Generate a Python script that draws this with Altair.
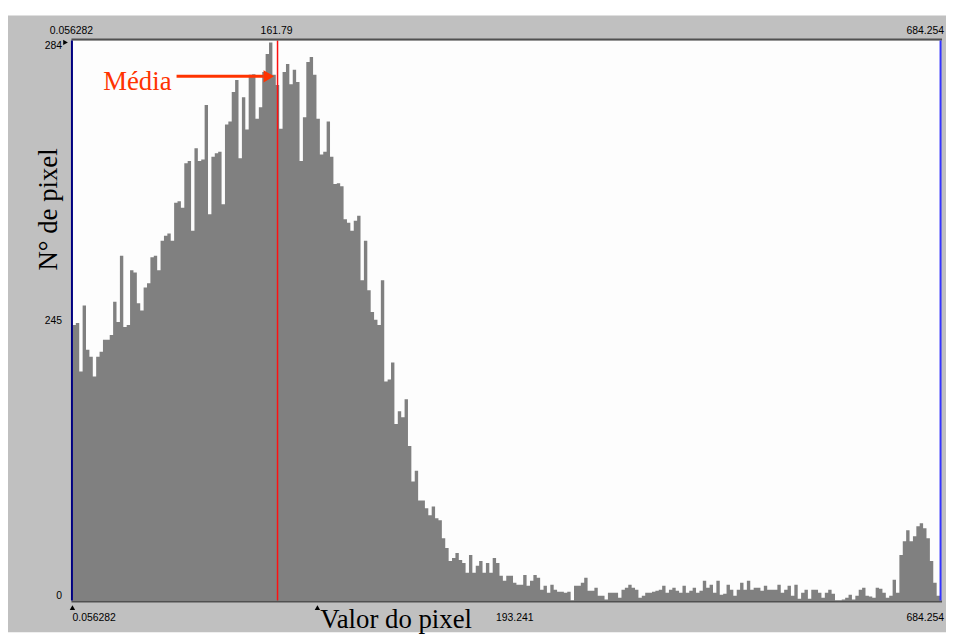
import altair as alt
import pandas as pd

# ---- data ----
x_min = 0.056282
x_max = 684.254
mean_value = 161.79
cursor_value = 193.241
y_ticks = [0, 245, 284]
top_labels = ["0.056282", "161.79", "684.254"]
bottom_labels = ["0.056282", "193.241", "684.254"]

counts = [
    241.1, 242.8, 200.4, 247.1, 219.4, 213.4, 196.0, 213.4, 217.7, 228.1,
    228.1, 232.4, 247.6, 243.7, 254.0, 239.4, 241.1, 252.0, 251.7, 247.4,
    246.4, 249.6, 250.2, 253.8, 254.0, 252.0, 256.1, 256.8, 257.1, 256.1,
    261.4, 261.6, 260.7, 266.9, 267.2, 257.5, 269.0, 267.2, 267.4, 275.0,
    259.8, 267.8, 268.3, 268.5, 261.2, 272.3, 272.7, 276.8, 278.5, 267.6,
    276.1, 271.6, 279.2, 279.3, 273.1, 274.7, 279.6, 282.1, 283.7, 279.2,
    277.8, 271.7, 279.6, 280.7, 277.9, 279.9, 278.2, 267.2, 273.3, 281.0,
    281.7, 279.2, 273.1, 268.1, 268.5, 272.7, 267.8, 264.0, 264.1, 263.7,
    259.1, 258.6, 257.5, 258.9, 259.6, 250.6, 256.1, 249.2, 246.2, 245.1,
    241.1, 250.6, 191.7, 193.4, 208.2, 154.4, 165.7, 160.4, 176.1, 135.3,
    104.1, 113.6, 87.6, 87.6, 80.7, 74.6, 82.4, 72.0, 70.3, 54.6,
    46.0, 34.7, 37.3, 41.6, 35.6, 33.0, 24.3, 39.9, 24.3, 30.4,
    34.7, 24.3, 33.0, 24.3, 37.3, 33.0, 21.7, 17.3, 21.7, 21.7,
    15.6, 13.9, 13.9, 22.5, 13.0, 17.3, 22.5, 19.9, 9.5, 13.0,
    6.9, 13.9, 9.5, 7.8, 7.8, 6.9, 7.8, 0.0, 13.0, 13.0,
    15.6, 19.9, 8.7, 8.7, 11.3, 4.3, 4.3, 0.9, 6.9, 6.9,
    6.9, 2.6, 9.5, 11.3, 13.9, 11.3, 9.5, 2.6, 4.3, 6.9,
    6.9, 7.8, 8.7, 9.5, 13.0, 6.9, 9.5, 11.3, 8.7, 6.9,
    13.0, 6.9, 8.7, 11.3, 6.9, 8.7, 17.3, 11.3, 13.9, 6.9,
    17.3, 5.2, 6.1, 13.9, 9.5, 4.3, 9.5, 15.6, 9.5, 17.3,
    9.5, 11.3, 11.3, 8.7, 13.0, 9.5, 9.5, 9.5, 13.9, 6.9,
    9.5, 13.0, 4.3, 13.9, 1.7, 6.9, 9.5, 1.7, 9.5, 9.5,
    6.9, 2.6, 6.9, 9.5, 6.1, 0.0, 0.0, 0.9, 2.6, 5.2,
    0.9, 4.3, 9.5, 11.3, 4.3, 3.5, 2.6, 11.3, 10.4, 6.9,
    2.6, 4.3, 18.2, 6.9, 39.9, 52.0, 61.6, 52.0, 56.4, 65.0,
    67.6, 63.3, 54.6, 34.7, 15.6, 4.3,
]

# annotation ("Média" with arrow), in data units
media_text = "Média"
media_x = 24.3
media_y = 277.1
arrow_x_start = 82.16
arrow_x_end = 150.9
arrow_head_x = 154.9
arrow_y = 279.0

# ---- layout ----
W, H = 875, 565
n = len(counts)
step = (x_max - x_min) / n
hist = pd.DataFrame({
    "x": [x_min + i * step for i in range(n)] + [x_max],
    "count": counts + [counts[-1]],
})

xs = alt.Scale(domain=[x_min, x_max], nice=False, zero=False)
ys = alt.Scale(domain=y_ticks, range=[H, H / 2, 0], nice=False, zero=False)

one = pd.DataFrame({"k": [0]})
SANS = "Liberation Sans"
SERIF = "Liberation Serif"
RED = "#ff3300"
LBL = 10.5

panel = alt.Chart(one).mark_rect(color="#c0c0c0").encode(
    x=alt.value(-65), x2=alt.value(W + 6), y=alt.value(-25), y2=alt.value(H + 32)
)
plotbg = alt.Chart(one).mark_rect(color="#fdfdfd").encode(
    x=alt.value(0), x2=alt.value(W), y=alt.value(0), y2=alt.value(H)
)

area = alt.Chart(hist).mark_area(interpolate="step-after", color="#808080", opacity=1).encode(
    x=alt.X("x:Q", scale=xs, axis=alt.Axis(
        title="Valor do pixel", labels=False, ticks=False, domain=False, grid=False, zindex=2,
        titleFont=SERIF, titleFontSize=27, titleFontWeight="normal", titleColor="#000",
        titleX=326, titleY=27, titleAlign="center", titleBaseline="alphabetic")),
    y=alt.Y("count:Q", scale=ys, axis=alt.Axis(
        values=y_ticks, title="N° de pixel", grid=False, domain=False, ticks=False, zindex=2,
        tickSize=0, labelPadding=11, labelFlush=True, labelFont=SANS, labelFontSize=LBL,
        labelColor="#000", titleFont=SERIF, titleFontSize=27, titleFontWeight="normal",
        titleColor="#000", titleX=-16, titleY=170, titleAngle=270, titleAlign="center",
        titleBaseline="alphabetic")),
)

mean_rule = alt.Chart(pd.DataFrame({"x": [mean_value]})).mark_rule(
    color="#ff1010", strokeWidth=1.5
).encode(x=alt.X("x:Q", scale=xs, axis=None))

top_border = alt.Chart(one).mark_rule(color="#505050", strokeWidth=2).encode(
    x=alt.value(-1), x2=alt.value(W + 2), y=alt.value(-1)
)
bottom_border = alt.Chart(one).mark_rule(color="#505050", strokeWidth=2).encode(
    x=alt.value(-1), x2=alt.value(W + 2), y=alt.value(H + 1)
)
left_border = alt.Chart(one).mark_rule(color="#000080", strokeWidth=2).encode(
    x=alt.value(-0.5), y=alt.value(0), y2=alt.value(H)
)
right_border = alt.Chart(one).mark_rule(color="#3333ff", strokeWidth=2).encode(
    x=alt.value(W + 0.5), y=alt.value(0), y2=alt.value(H)
)

arrow_df = pd.DataFrame({"x": [arrow_x_start], "x2": [arrow_x_end], "y": [arrow_y],
                         "hx": [arrow_head_x], "tx": [media_x], "ty": [media_y],
                         "t": [media_text]})
arrow_line = alt.Chart(arrow_df).mark_rule(color=RED, strokeWidth=3).encode(
    x=alt.X("x:Q", scale=xs, axis=None), x2="x2:Q",
    y=alt.Y("y:Q", scale=ys, axis=None),
)
arrow_head = alt.Chart(arrow_df).mark_point(
    shape="triangle-right", filled=True, size=150, color=RED, opacity=1
).encode(x=alt.X("hx:Q", scale=xs, axis=None), y=alt.Y("y:Q", scale=ys, axis=None))
media = alt.Chart(arrow_df).mark_text(
    font=SERIF, fontSize=27, color=RED, align="left", baseline="alphabetic"
).encode(x=alt.X("tx:Q", scale=xs, axis=None), y=alt.Y("ty:Q", scale=ys, axis=None), text="t:N")

top_df = pd.DataFrame({"x": [x_min, mean_value], "t": top_labels[:2]})
top_text = alt.Chart(top_df).mark_text(
    font=SANS, fontSize=LBL, color="#000", align="center", baseline="middle", dx=-1
).encode(x=alt.X("x:Q", scale=xs, axis=None), y=alt.value(-9), text="t:N")
top_right = alt.Chart(pd.DataFrame({"x": [x_max], "t": [top_labels[2]]})).mark_text(
    font=SANS, fontSize=LBL, color="#000", align="right", baseline="middle", dx=4
).encode(x=alt.X("x:Q", scale=xs, axis=None), y=alt.value(-9), text="t:N")

bl = alt.Chart(pd.DataFrame({"x": [x_min], "t": [bottom_labels[0]]})).mark_text(
    font=SANS, fontSize=LBL, color="#000", align="left", baseline="middle"
).encode(x=alt.X("x:Q", scale=xs, axis=None), y=alt.value(H + 18), text="t:N")
bm = alt.Chart(pd.DataFrame({"x": [cursor_value], "t": [bottom_labels[1]]})).mark_text(
    font=SANS, fontSize=LBL, color="#000", align="center", baseline="middle", dx=199
).encode(x=alt.X("x:Q", scale=xs, axis=None), y=alt.value(H + 18), text="t:N")
br = alt.Chart(pd.DataFrame({"x": [x_max], "t": [bottom_labels[2]]})).mark_text(
    font=SANS, fontSize=LBL, color="#000", align="right", baseline="middle", dx=4
).encode(x=alt.X("x:Q", scale=xs, axis=None), y=alt.value(H + 18), text="t:N")

markers = alt.Chart(pd.DataFrame({"x": [x_min, cursor_value]})).mark_point(
    shape="triangle-up", filled=True, size=30, color="#000", opacity=1
).encode(x=alt.X("x:Q", scale=xs, axis=None), y=alt.value(H + 7))
top_marker = alt.Chart(one).mark_point(
    shape="triangle-right", filled=True, size=30, color="#000", opacity=1
).encode(x=alt.value(-7), y=alt.value(2))

chart = alt.layer(
    panel, plotbg, area, mean_rule,
    top_border, bottom_border, left_border, right_border,
    arrow_line, arrow_head, media,
    top_text, top_right, bl, bm, br, markers, top_marker,
).resolve_axis(
    x="independent", y="independent"
).properties(
    width=W, height=H,
    autosize=alt.AutoSizeParams(type="none"),
    padding={"left": 65, "top": 30, "right": 6, "bottom": 32},
    background="white",
).configure_view(strokeWidth=0)

chart.save("out.html", embed_options={"renderer": "svg", "actions": False})
